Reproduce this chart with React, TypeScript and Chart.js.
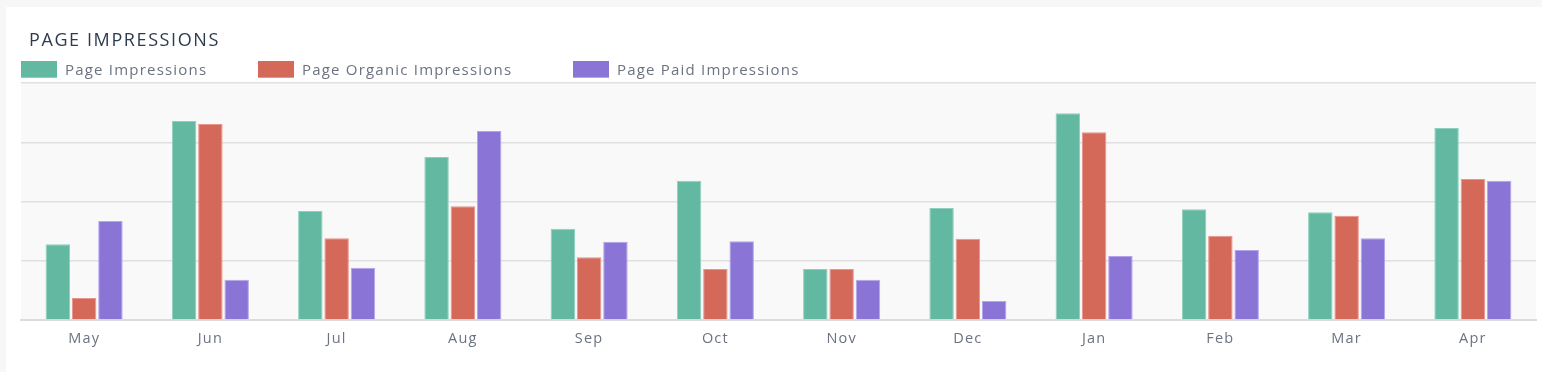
import React, { useEffect, useRef } from "react";
import { Chart, registerables } from "chart.js";

Chart.register(...registerables);

const months = ["May", "Jun", "Jul", "Aug", "Sep", "Oct", "Nov", "Dec", "Jan", "Feb", "Mar", "Apr"];
const pageImpressions = [128, 336, 184, 275, 154, 235, 86, 189, 349, 187, 182, 324];
const organicImpressions = [37, 331, 138, 192, 106, 86, 86, 137, 317, 142, 176, 238];
const paidImpressions = [167, 68, 88, 319, 132, 133, 68, 32, 108, 118, 138, 235];

const seriesNames = ["Page Impressions", "Page Organic Impressions", "Page Paid Impressions"];
const seriesColors = ["#62b8a0", "#d4695a", "#8a75d6"];
const seriesBorders = ["#8fd0bd", "#e8958a", "#b3a5ea"];
const legendLeft = [21, 258, 573];

const FONT = "'Open Sans', Lato, sans-serif";

const plotBg = {
  id: "plotBg",
  beforeDraw(chart: any) {
    const { ctx, chartArea } = chart;
    ctx.save();
    ctx.fillStyle = "#f9f9f9";
    ctx.fillRect(chartArea.left, chartArea.top, chartArea.right - chartArea.left, chartArea.bottom - chartArea.top);
    ctx.restore();
    ctx.letterSpacing = "1.2px";
  },
};

export default function App() {
  const ref = useRef<HTMLCanvasElement | null>(null);

  useEffect(() => {
    document.body.style.margin = "0";
    const data = [pageImpressions, organicImpressions, paidImpressions];
    const chart = new Chart(ref.current as HTMLCanvasElement, {
      type: "bar",
      data: {
        labels: months,
        datasets: seriesNames.map((name, i) => ({
          label: name,
          data: data[i],
          backgroundColor: seriesColors[i],
          borderColor: seriesBorders[i],
          borderWidth: 1,
          categoryPercentage: 0.625,
          barPercentage: 0.93,
        })),
      },
      options: {
        animation: false,
        responsive: false,
        maintainAspectRatio: false,
        layout: { padding: { left: 21, right: 6, top: 83, bottom: 0 } },
        plugins: { legend: { display: false }, tooltip: { enabled: false }, title: { display: false } },
        scales: {
          x: {
            grid: { display: false },
            border: { display: true, color: "#dcdcdc", width: 2 },
            ticks: {
              color: "#6b7280",
              font: { family: FONT, size: 14.5 },
              padding: 2,
            },
            afterFit(scale: any) {
              scale.height = 52;
            },
          },
          y: {
            min: 0,
            max: 400,
            ticks: { display: false, stepSize: 100 },
            border: { display: false },
            grid: { color: "#e0e0e0", lineWidth: 1.5, drawTicks: false },
            afterFit(scale: any) {
              scale.width = 0;
            },
          },
        },
      },
      plugins: [plotBg],
    });
    return () => chart.destroy();
  }, []);

  return (
    <div style={{ position: "relative", width: 1542, height: 372, background: "#f7f7f7", overflow: "hidden" }}>
      <div style={{ position: "absolute", left: 6, top: 7, width: 1536, height: 365, background: "#ffffff" }} />
      <canvas ref={ref} width={1542} height={372} style={{ position: "absolute", left: 0, top: 0, width: 1542, height: 372 }} />
      <div
        style={{
          position: "absolute",
          left: 29,
          top: 28,
          fontFamily: FONT,
          fontSize: 18,
          letterSpacing: 1.6,
          color: "#2d3b4e",
          lineHeight: "22px",
        }}
      >
        PAGE IMPRESSIONS
      </div>
      {seriesNames.map((name, i) => (
        <div key={name} style={{ position: "absolute", left: legendLeft[i], top: 60, height: 18, display: "flex", alignItems: "center" }}>
          <div style={{ width: 36, height: 17, background: seriesColors[i], borderBottom: `1px solid ${seriesBorders[i]}`, boxSizing: "border-box" }} />
          <span
            style={{
              marginLeft: 8,
              fontFamily: FONT,
              fontSize: 15,
              letterSpacing: 1.2,
              color: "#6b7280",
              whiteSpace: "nowrap",
            }}
          >
            {name}
          </span>
        </div>
      ))}
    </div>
  );
}
